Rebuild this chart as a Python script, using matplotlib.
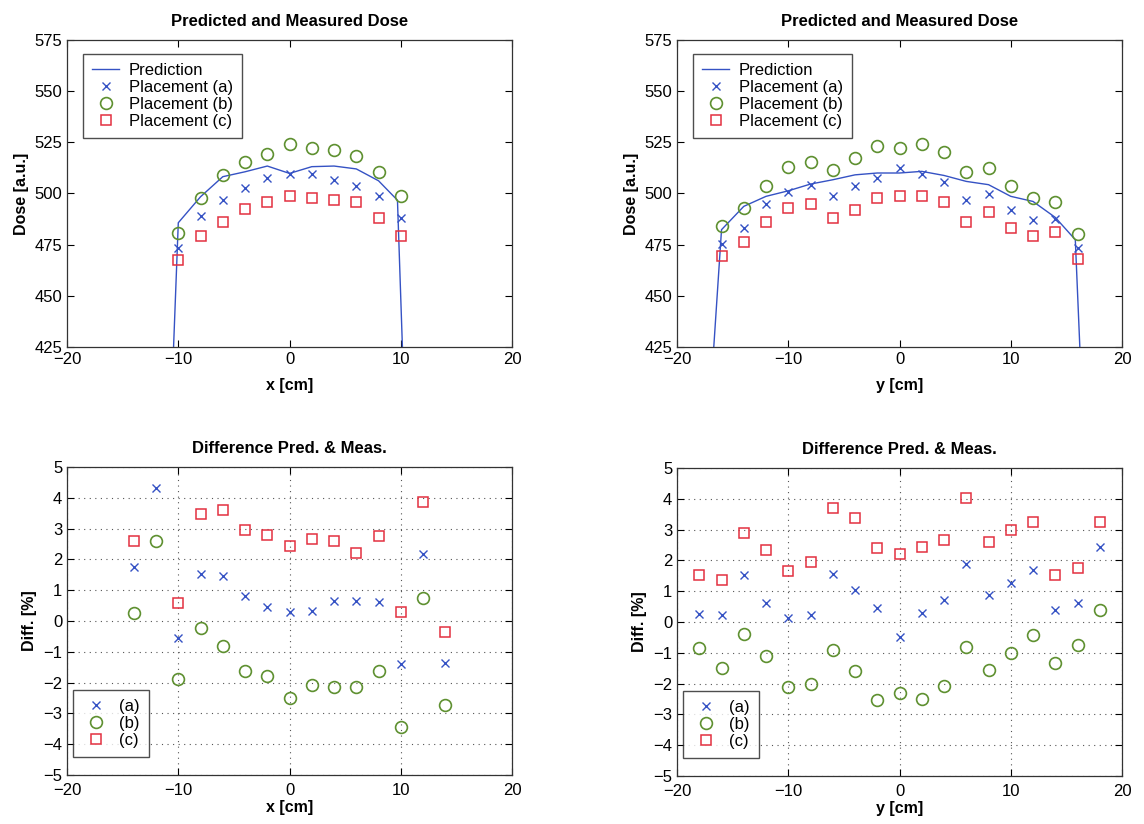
import numpy as np
import matplotlib
matplotlib.use("Agg")
import matplotlib.pyplot as plt

plt.rcParams['font.family'] = ['Liberation Sans', 'DejaVu Sans']

# --- x profile (placements measured every 2 cm) ---
x_pos = [-10, -8, -6, -4, -2, 0, 2, 4, 6, 8, 10]
x_meas_a = [473.4, 489.1, 496.9, 502.9, 507.7, 509.6, 509.6, 506.5, 503.7, 498.9, 487.8]
x_meas_b = [480.6, 498.0, 508.8, 515.6, 519.4, 524.3, 522.3, 521.4, 518.4, 510.6, 498.9]
x_meas_c = [467.7, 479.3, 486.3, 492.2, 495.9, 498.9, 498.0, 496.9, 495.9, 488.1, 479.3]
x_pred_pos = [-10.6, -10, -8, -6, -4, -2, 0, 2, 4, 6, 8, 9.7, 10.3]
x_pred = [400, 485.7, 498.4, 508.2, 510.6, 513.4, 509.8, 513.1, 513.4, 512.0, 506.2, 496.7, 400]

# --- y profile ---
y_pos = [-16, -14, -12, -10, -8, -6, -4, -2, 0, 2, 4, 6, 8, 10, 12, 14, 16]
y_meas_a = [475.2, 483.1, 495.0, 500.7, 503.9, 498.9, 503.8, 507.8, 512.4, 509.6,
            505.6, 496.6, 499.9, 491.9, 486.9, 487.5, 473.2]
y_meas_b = [484.3, 493.0, 503.8, 512.7, 515.5, 511.4, 517.4, 523.3, 522.3, 524.1,
            520.2, 510.4, 512.6, 503.8, 497.8, 495.8, 480.4]
y_meas_c = [469.5, 476.5, 486.1, 493.0, 495.0, 488.0, 492.1, 497.8, 498.9, 498.9,
            495.8, 486.2, 490.9, 483.1, 479.2, 481.3, 467.8]
y_pred_pos = [-17.0, -16, -14, -12, -10, -8, -6, -4, -2, 0, 2, 4, 6, 8, 10, 12, 14, 15.8, 16.4]
y_pred = [400, 482.3, 493.7, 498.6, 501.3, 504.6, 506.7, 509.1, 510.0, 510.0, 510.8,
          508.8, 505.9, 504.3, 498.6, 496.1, 488.3, 477.4, 400]

# --- differences [%] ---
dx_pos = [-14, -12, -10, -8, -6, -4, -2, 0, 2, 4, 6, 8, 10, 12, 14]
dx_a = [1.74, 4.31, -0.54, 1.51, 1.45, 0.81, 0.44, 0.28, 0.31, 0.64, 0.66, 0.62, -1.41, 2.17, -1.37]
dx_b = [0.27, 2.60, -1.87, -0.23, -0.82, -1.63, -1.80, -2.49, -2.09, -2.15, -2.14, -1.64, -3.43, 0.76, -2.73]
dx_c = [2.59, np.nan, 0.57, 3.46, 3.60, 2.95, 2.78, 2.42, 2.66, 2.59, 2.22, 2.75, 0.28, 3.87, -0.37]

dy_pos = [-18, -16, -14, -12, -10, -8, -6, -4, -2, 0, 2, 4, 6, 8, 10, 12, 14, 16, 18]
dy_a = [0.27, 0.22, 1.54, 0.60, 0.13, 0.24, 1.56, 1.05, 0.44, -0.50, 0.29, 0.72, 1.87,
        0.89, 1.27, 1.69, 0.38, 0.61, 2.44]
dy_b = [-0.85, -1.50, -0.39, -1.11, -2.10, -2.01, -0.91, -1.58, -2.53, -2.32, -2.49, -2.09,
        -0.81, -1.56, -1.02, -0.42, -1.32, -0.76, 0.39]
dy_c = [1.51, 1.36, 2.90, 2.33, 1.67, 1.96, 3.70, 3.37, 2.39, 2.20, 2.42, 2.65, 4.01,
        2.61, 3.00, 3.24, 1.52, 1.74, 3.24]

BLUE = '#3552c4'
GREEN = '#5e9030'
RED = '#e33040'

fig = plt.figure(figsize=(11.44, 8.24), dpi=100)
ax_tl = fig.add_axes([0.0586, 0.5789, 0.389, 0.3726])
ax_tr = fig.add_axes([0.5918, 0.5789, 0.389, 0.3726])
ax_bl = fig.add_axes([0.0586, 0.0595, 0.389, 0.3738])
ax_br = fig.add_axes([0.5918, 0.0583, 0.389, 0.3738])


def style(ax, xlabel, ylabel, title, xpad, tpad):
    ax.tick_params(direction='in', top=True, right=True, labelsize=12, length=5, width=0.8)
    ax.tick_params(axis='x', pad=tpad)
    ax.set_xlabel(xlabel, fontsize=11.5, fontweight='bold', labelpad=xpad)
    ax.set_ylabel(ylabel, fontsize=11.5, fontweight='bold', labelpad=4)
    ax.set_title(title, fontsize=12, fontweight='bold', pad=10)
    for s in ax.spines.values():
        s.set_linewidth(0.9)
        s.set_color('#333333')


def add_legend(ax, loc, anchor):
    leg = ax.legend(loc=loc, fontsize=12, frameon=True, fancybox=False,
                    handlelength=1.6, borderpad=0.55, labelspacing=0.12,
                    handletextpad=0.6, borderaxespad=0, bbox_to_anchor=anchor)
    leg.get_frame().set_edgecolor('#222222')
    leg.get_frame().set_linewidth(1.0)


def profile(ax, pos, pred_pos, pred, a, b, c, xlabel):
    ax.plot(pred_pos, pred, '-', color=BLUE, lw=1.0, label='Prediction')
    ax.plot(pos, a, 'x', color=BLUE, ms=5.5, mew=1.0, label='Placement (a)')
    ax.plot(pos, b, 'o', mfc='none', mec=GREEN, ms=8.5, mew=1.2, label='Placement (b)')
    ax.plot(pos, c, 's', mfc='none', mec=RED, ms=6.5, mew=1.1, label='Placement (c)')
    ax.set_xlim(-20, 20)
    ax.set_ylim(425, 575)
    ax.set_xticks([-20, -10, 0, 10, 20])
    ax.set_yticks(np.arange(425, 576, 25))
    style(ax, xlabel, 'Dose [a.u.]', 'Predicted and Measured Dose', 8, 3.5)
    add_legend(ax, 'upper left', (0.036, 0.954))


def diff(ax, pos, a, b, c, xlabel):
    ax.plot(pos, a, 'x', color=BLUE, ms=5.5, mew=1.0, label='(a)')
    ax.plot(pos, b, 'o', mfc='none', mec=GREEN, ms=8.5, mew=1.2, label='(b)')
    ax.plot(pos, c, 's', mfc='none', mec=RED, ms=6.5, mew=1.1, label='(c)')
    ax.set_xlim(-20, 20)
    ax.set_ylim(-5, 5)
    ax.set_xticks([-20, -10, 0, 10, 20])
    ax.set_yticks(np.arange(-5, 6, 1))
    ax.grid(True, linestyle=(0, (1, 4)), color='#555555', lw=0.8)
    style(ax, xlabel, 'Diff. [%]', 'Difference Pred. & Meas.', 1, 6)
    add_legend(ax, 'lower left', (0.014, 0.058))


profile(ax_tl, x_pos, x_pred_pos, x_pred, x_meas_a, x_meas_b, x_meas_c, 'x [cm]')
profile(ax_tr, y_pos, y_pred_pos, y_pred, y_meas_a, y_meas_b, y_meas_c, 'y [cm]')
diff(ax_bl, dx_pos, dx_a, dx_b, dx_c, 'x [cm]')
diff(ax_br, dy_pos, dy_a, dy_b, dy_c, 'y [cm]')

fig.savefig('out.png', dpi=100)
